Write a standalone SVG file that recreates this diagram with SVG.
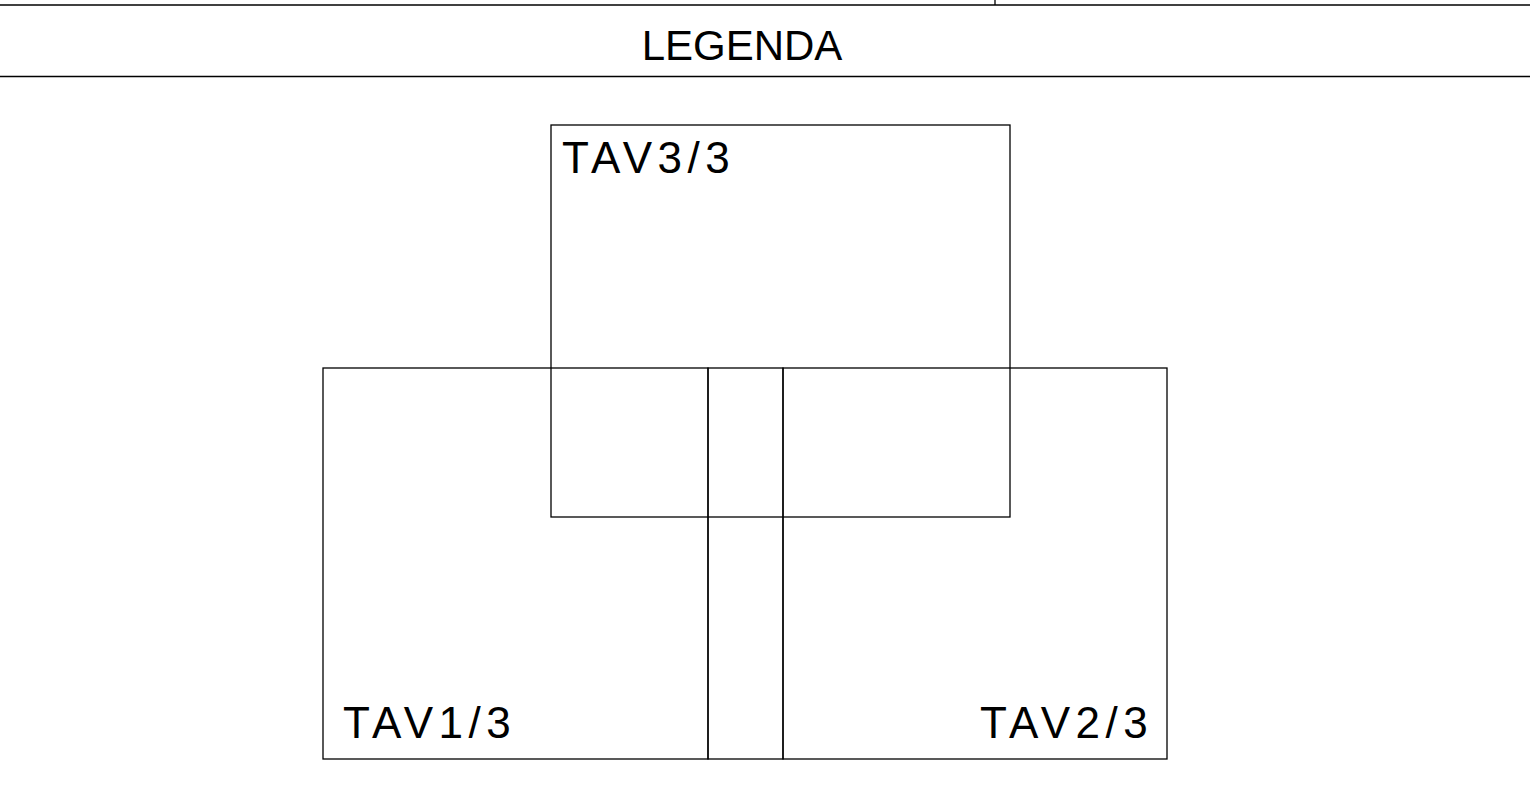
<svg xmlns="http://www.w3.org/2000/svg" width="1530" height="794" viewBox="0 0 1530 794">
<style>
.ln{stroke:#000;stroke-width:1.3;fill:none}
.t{font-family:"Liberation Sans",Arial,sans-serif;fill:#000;font-weight:normal}
.tav{font-size:44px;letter-spacing:5.5px}
</style>
<rect width="1530" height="794" fill="#fff"/>
<g id="frame">
<line class="ln" x1="0" y1="5" x2="1530" y2="5"/>
<line class="ln" x1="995" y1="0" x2="995" y2="5"/>
<line class="ln" x1="0" y1="76.5" x2="1530" y2="76.5"/>
<text class="t" x="742" y="60" font-size="42" text-anchor="middle">LEGENDA</text>
</g>
<g id="tav3">
<rect class="ln" x="551" y="125" width="459" height="392"/>
<text class="t tav" x="562" y="173">TAV3/3</text>
</g>
<g id="tav1">
<rect class="ln" x="323" y="368" width="385" height="391"/>
<text class="t tav" x="343" y="738">TAV1/3</text>
</g>
<g id="tav2">
<rect class="ln" x="783" y="368" width="384" height="391"/>
<text class="t tav" x="980" y="738">TAV2/3</text>
</g>
<g id="strip">
<rect class="ln" x="708" y="368" width="75" height="391"/>
</g>
</svg>
